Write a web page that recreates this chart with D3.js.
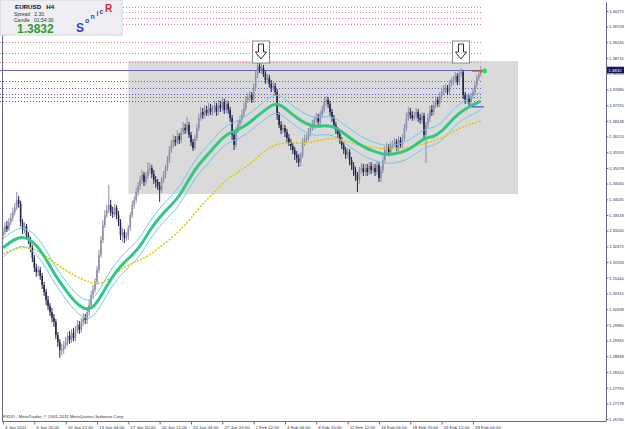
<!DOCTYPE html>
<html>
<head>
<meta charset="utf-8">
<script src="https://cdn.jsdelivr.net/npm/d3@7"></script>
<style>
  body { margin: 0; background: #fff; }
  svg { display: block; }
</style>
</head>
<body>
<svg id="chart" width="625" height="429"></svg>
<script>
// EURUSD H4 candles (one value per bar)
const firstOpen = 1.3285
const closes = [
  1.3295, 1.3315, 1.3305, 1.3328, 1.3342, 1.3361, 1.3376, 1.3402, 1.3389, 1.3328,
  1.3302, 1.3315, 1.3285, 1.3269, 1.3243, 1.3210, 1.3177, 1.3163, 1.3170, 1.3150,
  1.3120, 1.3097, 1.3070, 1.3050, 1.3030, 1.3011, 1.2997, 1.2954, 1.2931, 1.2905,
  1.2905, 1.2921, 1.2931, 1.2951, 1.2938, 1.2961, 1.2944, 1.2971, 1.2988, 1.2971,
  1.2997, 1.3011, 1.3004, 1.3030, 1.3053, 1.3087, 1.3104, 1.3130, 1.3170, 1.3219,
  1.3269, 1.3318, 1.3351, 1.3368, 1.3385, 1.3361, 1.3355, 1.3376, 1.3351, 1.3328,
  1.3285, 1.3295, 1.3276, 1.3282, 1.3309, 1.3351, 1.3385, 1.3402, 1.3428, 1.3448,
  1.3468, 1.3485, 1.3461, 1.3481, 1.3501, 1.3507, 1.3488, 1.3468, 1.3461, 1.3448,
  1.3435, 1.3468, 1.3485, 1.3507, 1.3534, 1.3567, 1.3584, 1.3600, 1.3593, 1.3613,
  1.3600, 1.3627, 1.3640, 1.3633, 1.3650, 1.3617, 1.3593, 1.3574, 1.3607, 1.3640,
  1.3673, 1.3693, 1.3683, 1.3700, 1.3690, 1.3706, 1.3693, 1.3700, 1.3713, 1.3693,
  1.3716, 1.3706, 1.3726, 1.3700, 1.3720, 1.3700, 1.3673, 1.3617, 1.3584, 1.3633,
  1.3650, 1.3667, 1.3683, 1.3706, 1.3733, 1.3740, 1.3749, 1.3733, 1.3773, 1.3816,
  1.3845, 1.3832, 1.3839, 1.3819, 1.3799, 1.3806, 1.3786, 1.3773, 1.3779, 1.3759,
  1.3683, 1.3650, 1.3633, 1.3640, 1.3627, 1.3607, 1.3593, 1.3580, 1.3567, 1.3551,
  1.3541, 1.3527, 1.3551, 1.3593, 1.3600, 1.3607, 1.3627, 1.3640, 1.3650, 1.3667,
  1.3673, 1.3660, 1.3683, 1.3700, 1.3726, 1.3733, 1.3720, 1.3693, 1.3673, 1.3650,
  1.3633, 1.3620, 1.3600, 1.3584, 1.3567, 1.3551, 1.3560, 1.3534, 1.3517, 1.3501,
  1.3485, 1.3468, 1.3501, 1.3507, 1.3494, 1.3507, 1.3494, 1.3514, 1.3501, 1.3507,
  1.3494, 1.3517, 1.3474, 1.3501, 1.3534, 1.3567, 1.3574, 1.3560, 1.3580, 1.3587,
  1.3594, 1.3574, 1.3600, 1.3584, 1.3607, 1.3640, 1.3673, 1.3693, 1.3683, 1.3673,
  1.3680, 1.3693, 1.3673, 1.3667, 1.3680, 1.3617, 1.3650, 1.3673, 1.3700, 1.3693,
  1.3716, 1.3733, 1.3720, 1.3746, 1.3759, 1.3766, 1.3773, 1.3759, 1.3786, 1.3792,
  1.3799, 1.3812, 1.3792, 1.3819, 1.3825, 1.3749, 1.3733, 1.3740, 1.3726, 1.3746,
  1.3759, 1.3782, 1.3806, 1.3819, 1.3832
]
const highs = [
  1.3309, 1.3328, 1.3332, 1.3342, 1.3358, 1.3376, 1.3392, 1.3428, 1.3415, 1.3399,
  1.3338, 1.3328, 1.3322, 1.3295, 1.3279, 1.3252, 1.3219, 1.3190, 1.3183, 1.3180,
  1.3160, 1.3130, 1.3107, 1.3084, 1.3060, 1.3044, 1.3024, 1.3007, 1.2964, 1.2941,
  1.2925, 1.2934, 1.2948, 1.2964, 1.2967, 1.2974, 1.2978, 1.2984, 1.3004, 1.3001,
  1.3011, 1.3027, 1.3024, 1.3047, 1.3070, 1.3101, 1.3120, 1.3143, 1.3183, 1.3236,
  1.3282, 1.3335, 1.3368, 1.3385, 1.3452, 1.3402, 1.3379, 1.3389, 1.3385, 1.3365,
  1.3338, 1.3309, 1.3305, 1.3295, 1.3318, 1.3361, 1.3399, 1.3415, 1.3442, 1.3461,
  1.3481, 1.3501, 1.3494, 1.3494, 1.3527, 1.3524, 1.3517, 1.3501, 1.3481, 1.3471,
  1.3461, 1.3478, 1.3498, 1.3517, 1.3547, 1.3580, 1.3600, 1.3617, 1.3613, 1.3633,
  1.3623, 1.3640, 1.3660, 1.3654, 1.3677, 1.3660, 1.3627, 1.3603, 1.3617, 1.3654,
  1.3687, 1.3710, 1.3706, 1.3716, 1.3713, 1.3723, 1.3720, 1.3716, 1.3730, 1.3723,
  1.3733, 1.3730, 1.3740, 1.3737, 1.3733, 1.3730, 1.3710, 1.3683, 1.3627, 1.3643,
  1.3667, 1.3680, 1.3700, 1.3723, 1.3746, 1.3756, 1.3763, 1.3759, 1.3786, 1.3829,
  1.3858, 1.3855, 1.3858, 1.3849, 1.3829, 1.3819, 1.3816, 1.3799, 1.3792, 1.3789,
  1.3769, 1.3693, 1.3663, 1.3654, 1.3650, 1.3637, 1.3620, 1.3603, 1.3590, 1.3577,
  1.3564, 1.3554, 1.3560, 1.3607, 1.3617, 1.3620, 1.3640, 1.3654, 1.3667, 1.3680,
  1.3690, 1.3687, 1.3696, 1.3713, 1.3740, 1.3746, 1.3743, 1.3730, 1.3703, 1.3683,
  1.3660, 1.3643, 1.3630, 1.3610, 1.3594, 1.3577, 1.3574, 1.3570, 1.3544, 1.3527,
  1.3511, 1.3494, 1.3511, 1.3524, 1.3521, 1.3521, 1.3521, 1.3527, 1.3527, 1.3521,
  1.3521, 1.3531, 1.3527, 1.3514, 1.3547, 1.3580, 1.3590, 1.3587, 1.3594, 1.3600,
  1.3607, 1.3603, 1.3613, 1.3610, 1.3620, 1.3654, 1.3690, 1.3710, 1.3706, 1.3696,
  1.3693, 1.3706, 1.3703, 1.3687, 1.3693, 1.3690, 1.3660, 1.3687, 1.3713, 1.3716,
  1.3730, 1.3746, 1.3743, 1.3759, 1.3773, 1.3782, 1.3786, 1.3782, 1.3799, 1.3806,
  1.3812, 1.3825, 1.3822, 1.3832, 1.3839, 1.3832, 1.3759, 1.3753, 1.3749, 1.3756,
  1.3773, 1.3792, 1.3816, 1.3832, 1.3845
]
const lows = [
  1.3272, 1.3285, 1.3295, 1.3299, 1.3318, 1.3332, 1.3351, 1.3368, 1.3376, 1.3315,
  1.3289, 1.3292, 1.3276, 1.3256, 1.3229, 1.3196, 1.3163, 1.3147, 1.3150, 1.3137,
  1.3107, 1.3084, 1.3053, 1.3037, 1.3017, 1.2997, 1.2981, 1.2941, 1.2915, 1.2879,
  1.2888, 1.2892, 1.2908, 1.2918, 1.2925, 1.2928, 1.2934, 1.2934, 1.2961, 1.2958,
  1.2961, 1.2984, 1.2991, 1.2991, 1.3017, 1.3040, 1.3074, 1.3094, 1.3120, 1.3160,
  1.3210, 1.3259, 1.3309, 1.3342, 1.3358, 1.3348, 1.3342, 1.3345, 1.3338, 1.3315,
  1.3269, 1.3262, 1.3259, 1.3266, 1.3269, 1.3299, 1.3342, 1.3372, 1.3392, 1.3415,
  1.3435, 1.3455, 1.3448, 1.3452, 1.3471, 1.3488, 1.3474, 1.3455, 1.3442, 1.3435,
  1.3395, 1.3425, 1.3458, 1.3474, 1.3498, 1.3524, 1.3557, 1.3574, 1.3580, 1.3584,
  1.3587, 1.3590, 1.3617, 1.3620, 1.3623, 1.3607, 1.3580, 1.3564, 1.3567, 1.3597,
  1.3630, 1.3664, 1.3670, 1.3673, 1.3680, 1.3680, 1.3683, 1.3680, 1.3690, 1.3680,
  1.3683, 1.3693, 1.3696, 1.3687, 1.3690, 1.3687, 1.3660, 1.3600, 1.3567, 1.3574,
  1.3623, 1.3640, 1.3657, 1.3673, 1.3696, 1.3723, 1.3730, 1.3723, 1.3723, 1.3763,
  1.3806, 1.3822, 1.3819, 1.3809, 1.3786, 1.3789, 1.3773, 1.3759, 1.3763, 1.3746,
  1.3667, 1.3640, 1.3620, 1.3623, 1.3610, 1.3593, 1.3580, 1.3567, 1.3554, 1.3534,
  1.3524, 1.3511, 1.3514, 1.3541, 1.3580, 1.3590, 1.3597, 1.3613, 1.3630, 1.3637,
  1.3657, 1.3647, 1.3650, 1.3673, 1.3690, 1.3713, 1.3706, 1.3680, 1.3660, 1.3637,
  1.3620, 1.3607, 1.3587, 1.3570, 1.3554, 1.3537, 1.3541, 1.3517, 1.3501, 1.3481,
  1.3465, 1.3428, 1.3455, 1.3488, 1.3481, 1.3481, 1.3481, 1.3485, 1.3488, 1.3491,
  1.3481, 1.3485, 1.3461, 1.3461, 1.3491, 1.3524, 1.3557, 1.3547, 1.3551, 1.3570,
  1.3577, 1.3564, 1.3564, 1.3574, 1.3574, 1.3597, 1.3630, 1.3664, 1.3670, 1.3664,
  1.3664, 1.3670, 1.3660, 1.3654, 1.3654, 1.3600, 1.3524, 1.3640, 1.3660, 1.3680,
  1.3683, 1.3706, 1.3710, 1.3710, 1.3733, 1.3749, 1.3756, 1.3749, 1.3749, 1.3776,
  1.3782, 1.3789, 1.3782, 1.3782, 1.3809, 1.3736, 1.3720, 1.3720, 1.3713, 1.3716,
  1.3736, 1.3749, 1.3773, 1.3796, 1.3809
]

// indicator lines, read every 5 bars
const maBars = [0, 5, 10, 15, 20, 25, 30, 35, 40, 45, 50, 55, 60, 65, 70, 75, 80, 85, 90, 95,
  100, 105, 110, 115, 120, 125, 130, 135, 140, 145, 150, 155, 160, 165, 170, 175, 180, 185, 190, 195,
  200, 205, 210, 215, 220, 225, 230, 235, 240, 244]
const maGreen = [1.3243, 1.3269, 1.3282, 1.3266, 1.3229, 1.3170, 1.3120, 1.3077, 1.3044, 1.3034,
  1.3081, 1.3140, 1.3183, 1.3213, 1.3246, 1.3302, 1.3345, 1.3379, 1.3412, 1.3471,
  1.3521, 1.3554, 1.3594, 1.3623, 1.3633, 1.3653, 1.3680, 1.3706, 1.3726, 1.3700,
  1.3673, 1.3653, 1.3643, 1.3650, 1.3643, 1.3617, 1.3594, 1.3574, 1.3561, 1.3551,
  1.3554, 1.3561, 1.3580, 1.3607, 1.3610, 1.3633, 1.3673, 1.3700, 1.3716, 1.3729]
const bandUpper = [1.3273, 1.3299, 1.3312, 1.3296, 1.3259, 1.3200, 1.3150, 1.3107, 1.3074, 1.3064,
  1.3111, 1.3170, 1.3213, 1.3243, 1.3276, 1.3332, 1.3375, 1.3409, 1.3442, 1.3501,
  1.3551, 1.3584, 1.3624, 1.3653, 1.3663, 1.3683, 1.3710, 1.3736, 1.3756, 1.3730,
  1.3703, 1.3683, 1.3673, 1.3680, 1.3673, 1.3647, 1.3624, 1.3604, 1.3591, 1.3581,
  1.3584, 1.3591, 1.3610, 1.3637, 1.3640, 1.3663, 1.3703, 1.3730, 1.3746, 1.3759]
const bandLower = [1.3213, 1.3239, 1.3252, 1.3236, 1.3199, 1.3140, 1.3090, 1.3047, 1.3014, 1.3004,
  1.3051, 1.3110, 1.3153, 1.3183, 1.3216, 1.3272, 1.3315, 1.3349, 1.3382, 1.3441,
  1.3491, 1.3524, 1.3564, 1.3593, 1.3603, 1.3623, 1.3650, 1.3676, 1.3696, 1.3670,
  1.3643, 1.3623, 1.3613, 1.3620, 1.3613, 1.3587, 1.3564, 1.3544, 1.3531, 1.3521,
  1.3524, 1.3531, 1.3550, 1.3577, 1.3580, 1.3603, 1.3643, 1.3670, 1.3686, 1.3699]
const maYellow = [1.3223, 1.3236, 1.3246, 1.3243, 1.3223, 1.3200, 1.3176, 1.3157, 1.3140, 1.3127,
  1.3123, 1.3143, 1.3170, 1.3190, 1.3203, 1.3219, 1.3246, 1.3269, 1.3299, 1.3332,
  1.3375, 1.3408, 1.3441, 1.3474, 1.3494, 1.3514, 1.3544, 1.3571, 1.3587, 1.3590,
  1.3590, 1.3590, 1.3597, 1.3604, 1.3607, 1.3597, 1.3587, 1.3580, 1.3574, 1.3571,
  1.3571, 1.3574, 1.3580, 1.3587, 1.3597, 1.3610, 1.3630, 1.3643, 1.3656, 1.3663]

// axis labels
const priceTicks = [1.40275, 1.39758, 1.39240, 1.38715, 1.38198, 1.37680, 1.37155, 1.36638, 1.36120,
  1.35595, 1.35078, 1.34560, 1.34035, 1.33518, 1.33000, 1.32475, 1.31958, 1.31440, 1.30915,
  1.30398, 1.29880, 1.29355, 1.28838, 1.28320, 1.27795, 1.27278, 1.26760]
const dateTickBars = [0, 16, 32, 48, 64, 80, 96, 112, 128, 144, 160, 176, 192, 208, 224, 240]
const dateLabels = ['3 Jan 2011', '5 Jan 20:00', '10 Jan 12:00', '13 Jan 04:00', '17 Jan 20:00',
  '20 Jan 12:00', '25 Jan 04:00', '27 Jan 20:00', '1 Feb 12:00', '4 Feb 04:00', '8 Feb 20:00',
  '11 Feb 12:00', '16 Feb 04:00', '18 Feb 20:00', '23 Feb 12:00', '28 Feb 04:00']

// chart objects
const resistLevels = [1.4040, 1.4024, 1.4004, 1.3985, 1.3925, 1.3888, 1.3859]
const supportLevels = [1.3796, 1.3773, 1.3753, 1.3743, 1.3729]
const bidPrice = 1.3832
const levelEndBar = 245
const zoneBars = [64, 263]
const zonePrices = [1.3862, 1.3421]
const arrowBars = [132, 233.7]
const arrowPrice = 1.3928
const markHigh = 1.3829
const markLow = 1.3710
const markBars = [239.5, 245.5]

const W = 625, H = 429
const frame = { left: 2, top: 2, right: 606, bottom: 421 }
const font = '"Liberation Sans", Arial, sans-serif'
const bearColor = '#24244c'
const bullColor = '#8e8eaa'

const svg = d3.select('#chart')

const x = d3.scaleLinear().domain([0, 244]).range([3, 480.8])
const y = d3.scaleLinear().domain([1.26694, 1.40573]).range([frame.bottom, frame.top])

svg.append('rect').attr('width', W).attr('height', H).attr('fill', '#ffffff')

// rectangle object
svg.append('rect')
  .attr('x', x(zoneBars[0]))
  .attr('y', y(zonePrices[0]))
  .attr('width', x(zoneBars[1]) - x(zoneBars[0]))
  .attr('height', y(zonePrices[1]) - y(zonePrices[0]))
  .attr('fill', '#dadada')

// horizontal levels
const levels = svg.append('g').attr('id', 'levels')
levels.selectAll('line.res')
  .data(resistLevels)
  .join('line')
  .attr('class', 'res')
  .attr('x1', 0)
  .attr('x2', x(levelEndBar))
  .attr('y1', (d) => Math.round(y(d)) + 0.5)
  .attr('y2', (d) => Math.round(y(d)) + 0.5)
  .attr('stroke', '#e07a8a')
  .attr('stroke-dasharray', '1,2')
levels.selectAll('line.sup')
  .data(supportLevels)
  .join('line')
  .attr('class', 'sup')
  .attr('x1', 0)
  .attr('x2', x(levelEndBar))
  .attr('y1', (d) => Math.round(y(d)) + 0.5)
  .attr('y2', (d) => Math.round(y(d)) + 0.5)
  .attr('stroke', '#5a5ae0')
  .attr('stroke-dasharray', '1,2')
levels.append('line')
  .attr('x1', 0)
  .attr('x2', x(levelEndBar))
  .attr('y1', Math.round(y(bidPrice)) + 0.5)
  .attr('y2', Math.round(y(bidPrice)) + 0.5)
  .attr('stroke', '#6464b0')

// candles
const bars = closes.map((c, i) => ({
  i,
  open: i === 0 ? firstOpen : closes[i - 1],
  close: c,
  high: highs[i],
  low: lows[i],
}))
const candles = svg.append('g').attr('id', 'candles')
candles.selectAll('line')
  .data(bars)
  .join('line')
  .attr('x1', (d) => x(d.i))
  .attr('x2', (d) => x(d.i))
  .attr('y1', (d) => y(d.high))
  .attr('y2', (d) => y(d.low))
  .attr('stroke', (d) => (d.close < d.open ? bearColor : bullColor))
  .attr('stroke-width', 1)
candles.selectAll('rect')
  .data(bars)
  .join('rect')
  .attr('x', (d) => x(d.i) - 0.8)
  .attr('width', 1.6)
  .attr('y', (d) => y(Math.max(d.open, d.close)))
  .attr('height', (d) => Math.max(1, Math.abs(y(d.open) - y(d.close))))
  .attr('fill', (d) => (d.close < d.open ? bearColor : bullColor))

// moving averages
const maLine = (values) =>
  d3.line()
    .x((d, i) => x(maBars[i]))
    .y((d) => y(d))
    .curve(d3.curveBasis)(values)

const ma = svg.append('g').attr('id', 'ma').attr('fill', 'none')
ma.append('path').attr('d', maLine(bandUpper)).attr('stroke', '#6cc8f0').attr('stroke-width', 1)
ma.append('path').attr('d', maLine(bandLower)).attr('stroke', '#6cc8f0').attr('stroke-width', 1)
ma.append('path').attr('d', maLine(maYellow)).attr('stroke', '#dccd00').attr('stroke-width', 1.6)
  .attr('stroke-dasharray', '2,1.5')
ma.append('path').attr('d', maLine(maGreen)).attr('stroke', '#2fc884').attr('stroke-width', 3)

// sonic markers at the last bar
svg.append('line')
  .attr('x1', x(markBars[0])).attr('x2', x(markBars[1]))
  .attr('y1', y(markHigh)).attr('y2', y(markHigh))
  .attr('stroke', '#e03030').attr('stroke-width', 1.2)
svg.append('line')
  .attr('x1', x(markBars[0])).attr('x2', x(markBars[1]))
  .attr('y1', y(markLow)).attr('y2', y(markLow))
  .attr('stroke', '#4a4ae0').attr('stroke-width', 1.2)
svg.append('circle')
  .attr('cx', x(markBars[1]) + 1).attr('cy', y(markHigh)).attr('r', 2.3)
  .attr('fill', '#22dd44')

// down arrows in boxes
const arrows = svg.append('g').attr('id', 'arrows')
  .selectAll('g')
  .data(arrowBars)
  .join('g')
  .attr('transform', (d) => `translate(${Math.round(x(d))},${Math.round(y(arrowPrice))})`)
arrows.append('rect')
  .attr('x', -8.5).attr('y', 0).attr('width', 17).attr('height', 22)
  .attr('fill', '#ffffff').attr('stroke', '#8a8a8a')
arrows.append('path')
  .attr('d', 'M-2.5,3 H2.5 V11 H5.5 L0,18 L-5.5,11 H-2.5 Z')
  .attr('fill', '#ffffff').attr('stroke', '#303030').attr('stroke-width', 1)

// frame
svg.append('path')
  .attr('d', `M${frame.left + 0.5},${frame.top} V${frame.bottom + 0.5} H${frame.right + 0.5} V${frame.top}`)
  .attr('fill', 'none')
  .attr('stroke', '#6a6a88')

// price axis
const yAxis = svg.append('g')
  .attr('transform', `translate(${frame.right + 0.5},0)`)
  .call(d3.axisRight(y).tickValues(priceTicks).tickFormat(d3.format('.5f')).tickSize(2).tickPadding(0.8))
yAxis.select('.domain').remove()
yAxis.selectAll('line').attr('stroke', '#6a6a88')
yAxis.selectAll('text').attr('font-family', font).attr('font-size', 4).attr('fill', '#303048')

// bid label
svg.append('rect')
  .attr('x', frame.right + 1).attr('y', y(bidPrice) - 3.3)
  .attr('width', 17).attr('height', 6.6)
  .attr('fill', '#14145a')
svg.append('text')
  .attr('x', frame.right + 2.2).attr('y', y(bidPrice) + 1.6)
  .attr('font-family', font).attr('font-size', 4.4).attr('fill', '#ffffff')
  .text(d3.format('.4f')(bidPrice))

// time axis
const xAxis = svg.append('g')
  .attr('transform', `translate(0,${frame.bottom + 0.5})`)
  .call(d3.axisBottom(x).tickValues(dateTickBars).tickFormat((d, i) => dateLabels[i]).tickSize(3).tickPadding(1))
xAxis.select('.domain').remove()
xAxis.selectAll('line').attr('stroke', '#6a6a88')
xAxis.selectAll('text')
  .attr('text-anchor', 'start').attr('dx', 1.5)
  .attr('font-family', font).attr('font-size', 4.4).attr('fill', '#303048')

svg.append('text')
  .attr('x', 3).attr('y', 418)
  .attr('font-family', font).attr('font-size', 4.4).attr('fill', '#303048')
  .text('FXDD - MetaTrader, © 2001-2011 MetaQuotes Software Corp.')

// info panel
const info = svg.append('g').attr('id', 'info')
info.append('rect')
  .attr('x', 0).attr('y', 0).attr('width', 122).attr('height', 35)
  .attr('fill', '#eeeef3').attr('stroke', '#d4d4dc')
info.append('text').attr('x', 15).attr('y', 9)
  .attr('font-family', font).attr('font-size', 6.2).attr('font-weight', 'bold').attr('fill', '#111')
  .attr('xml:space', 'preserve').text('EURUSD   H4')
info.append('text').attr('x', 14).attr('y', 15.5)
  .attr('font-family', font).attr('font-size', 5).attr('fill', '#333')
  .attr('xml:space', 'preserve').text('Spread   2.30')
info.append('text').attr('x', 14).attr('y', 21.5)
  .attr('font-family', font).attr('font-size', 5).attr('fill', '#333')
  .attr('xml:space', 'preserve').text('Candle   01:54:30')
info.append('text').attr('x', 17).attr('y', 32.5)
  .attr('font-family', font).attr('font-size', 12).attr('font-weight', 'bold').attr('fill', '#2e9a34')
  .text(d3.format('.4f')(bidPrice))

const sonic = [
  { ch: 'S', x: 76, y: 32, size: 12, color: '#2d3fd2' },
  { ch: 'o', x: 85, y: 23, size: 7, color: '#3444b8' },
  { ch: 'n', x: 90.5, y: 18.5, size: 7, color: '#3444b8' },
  { ch: 'i', x: 96.5, y: 16, size: 7, color: '#3444b8' },
  { ch: 'c', x: 99.5, y: 13.5, size: 7, color: '#3444b8' },
  { ch: 'R', x: 105, y: 12, size: 10, color: '#e22424' },
]
info.selectAll('text.sonic')
  .data(sonic)
  .join('text')
  .attr('class', 'sonic')
  .attr('x', (d) => d.x).attr('y', (d) => d.y)
  .attr('font-family', font).attr('font-weight', 'bold')
  .attr('font-size', (d) => d.size).attr('fill', (d) => d.color)
  .text((d) => d.ch)
</script>
</body>
</html>
